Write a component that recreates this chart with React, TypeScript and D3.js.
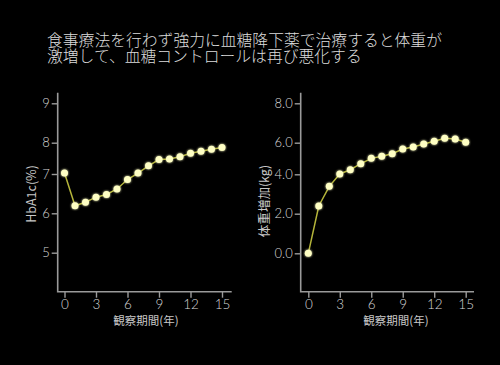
import React, { useEffect, useRef } from "react";
import * as d3 from "d3";

const titleLines = [
  "食事療法を行わず強力に血糖降下薬で治療すると体重が",
  "激増して、血糖コントロールは再び悪化する",
];

const years = [0, 1, 2, 3, 4, 5, 6, 7, 8, 9, 10, 11, 12, 13, 14, 15];
const xTicks = [0, 3, 6, 9, 12, 15];

const hba1c = [7.03, 6.19, 6.28, 6.41, 6.48, 6.62, 6.86, 7.03, 7.26, 7.46, 7.48, 7.55, 7.66, 7.73, 7.79, 7.85];
const hba1cTicks = [5, 6, 7, 8, 9];

const weightGain = [0.0, 2.39, 3.39, 4.02, 4.29, 4.67, 5.01, 5.14, 5.3, 5.6, 5.73, 5.92, 6.07, 6.22, 6.19, 6.02];
const weightTicks = [0, 2, 4, 6, 8];

const xTitle = "観察期間(年)";

const W = 500;
const H = 365;
const FONT = "'Lato', 'Noto Sans CJK JP', sans-serif";
const JP = "'Noto Sans CJK JP', sans-serif";

function App() {
  const svgRef = useRef<SVGSVGElement>(null);

  useEffect(() => {
    document.body.style.margin = "0";
    document.body.style.background = "#000";
    const svg = d3.select(svgRef.current);
    svg.selectAll("*").remove();

    svg.append("rect").attr("width", W).attr("height", H).attr("fill", "#000");

    const defs = svg.append("defs");
    const glow = defs.append("filter").attr("id", "glow").attr("x", "-50%").attr("y", "-50%").attr("width", "200%").attr("height", "200%");
    glow.append("feGaussianBlur").attr("stdDeviation", 1.2).attr("result", "b");
    const merge = glow.append("feMerge");
    merge.append("feMergeNode").attr("in", "b");
    merge.append("feMergeNode").attr("in", "SourceGraphic");

    // title, two lines
    svg
      .append("g")
      .selectAll("text")
      .data(titleLines)
      .join("text")
      .attr("x", 47)
      .attr("y", (d, i) => 46 + i * 15.5)
      .attr("fill", "#dcdcdc")
      .attr("font-family", JP)
      .attr("font-weight", 300)
      .attr("font-size", 15.8)
      .text((d) => d);

    const drawPanel = (opts: {
      axisX: number;
      x0: number;
      x15: number;
      xEnd: number;
      yDomain: number[];
      yRange: number[];
      ticks: number[];
      fmt: (v: number) => string;
      values: number[];
      yTitle: string;
      yTitleX: number;
      yTitleY: number;
      xTitleX: number;
    }) => {
      const g = svg.append("g");
      const top = 92.7;
      const bottom = 291.7;
      const x = d3.scaleLinear().domain([0, 15]).range([opts.x0, opts.x15]);
      // the reference's y ticks are not evenly spaced, so a piecewise scale
      const y = d3.scaleLinear().domain(opts.yDomain).range(opts.yRange);

      g.append("path")
        .attr("d", `M${opts.axisX},${top}V${bottom}H${opts.xEnd}`)
        .attr("fill", "none")
        .attr("stroke", "#9a9a9a")
        .attr("stroke-width", 1.6);

      const yAxis = g
        .append("g")
        .attr("transform", `translate(${opts.axisX},0)`)
        .call(d3.axisLeft(y).tickValues(opts.ticks).tickFormat((v) => opts.fmt(+v)).tickSize(6).tickPadding(2));
      yAxis.select(".domain").remove();
      yAxis.selectAll("line").attr("stroke", "#9a9a9a").attr("stroke-width", 1.4);
      yAxis.selectAll("text").attr("fill", "#d8d8d8").attr("font-size", 13).attr("font-weight", 300).attr("font-family", FONT);

      const xAxis = g
        .append("g")
        .attr("transform", `translate(0,${bottom})`)
        .call(d3.axisBottom(x).tickValues(xTicks).tickSize(6).tickPadding(2));
      xAxis.select(".domain").remove();
      xAxis.selectAll("line").attr("stroke", "#9a9a9a").attr("stroke-width", 1.4);
      xAxis.selectAll("text").attr("fill", "#d8d8d8").attr("font-size", 13.5).attr("font-weight", 300).attr("font-family", FONT);

      g.append("text")
        .attr("x", opts.xTitleX)
        .attr("y", 325)
        .attr("text-anchor", "middle")
        .attr("fill", "#c8c8c8")
        .attr("font-family", JP)
        .attr("font-size", 11.5)
        .text(xTitle);

      g.append("text")
        .attr("transform", `translate(${opts.yTitleX},${opts.yTitleY}) rotate(-90)`)
        .attr("text-anchor", "middle")
        .attr("fill", "#c8c8c8")
        .attr("font-family", JP)
        .attr("font-size", 12.5)
        .text(opts.yTitle);

      const line = d3
        .line<number>()
        .x((d, i) => x(years[i]))
        .y((d) => y(d));

      g.append("path")
        .datum(opts.values)
        .attr("d", line)
        .attr("fill", "none")
        .attr("stroke", "#b4b43a")
        .attr("stroke-width", 1.5);

      g.selectAll(".dot")
        .data(opts.values)
        .join("circle")
        .attr("class", "dot")
        .attr("cx", (d, i) => x(years[i]))
        .attr("cy", (d) => y(d))
        .attr("r", 3.5)
        .attr("fill", "#ffffc4")
        .attr("filter", "url(#glow)");
    };

    drawPanel({
      axisX: 57.7,
      x0: 64.5,
      x15: 222,
      xEnd: 231.7,
      yDomain: [3.99, 5, 6, 7, 8, 9, 9.27],
      yRange: [291.7, 252.7, 213.3, 174, 142.7, 103.3, 92.7],
      ticks: hba1cTicks,
      fmt: (v) => String(v),
      values: hba1c,
      yTitle: "HbA1c(%)",
      yTitleX: 36,
      yTitleY: 194,
      xTitleX: 146,
    });

    drawPanel({
      axisX: 300.7,
      x0: 308.3,
      x15: 465.7,
      xEnd: 474,
      yDomain: [-1.94, 0, 2, 4, 6, 8, 8.54],
      yRange: [291.7, 253.3, 213.7, 174.3, 142.7, 103.3, 92.7],
      ticks: weightTicks,
      fmt: (v) => v.toFixed(1),
      values: weightGain,
      yTitle: "体重増加(kg)",
      yTitleX: 269,
      yTitleY: 201,
      xTitleX: 396,
    });
  }, []);

  return (
    <div>
      <svg ref={svgRef} width={W} height={H} style={{ display: "block" }} />
    </div>
  );
}

export default App;
